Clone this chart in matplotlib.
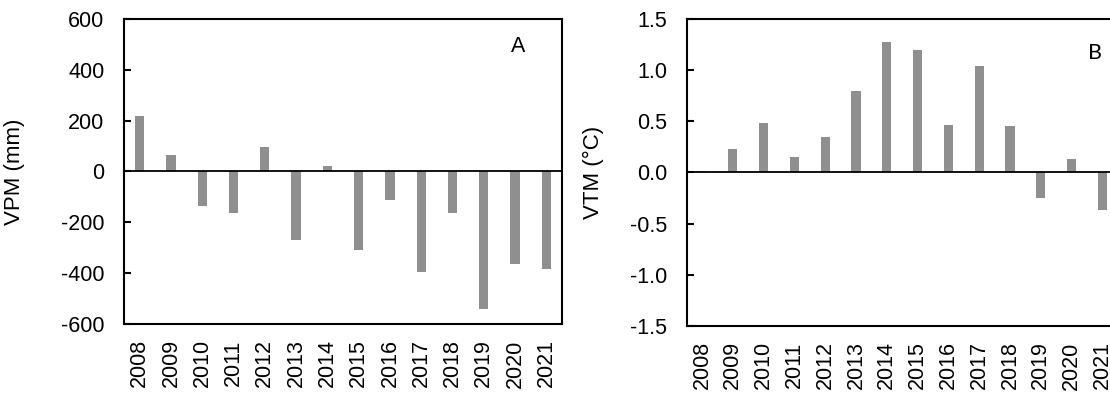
import matplotlib
matplotlib.use('Agg')
import matplotlib.pyplot as plt
import numpy as np

plt.rcParams['font.family'] = ['Liberation Sans', 'DejaVu Sans']

years = ['2008', '2009', '2010', '2011', '2012', '2013', '2014',
         '2015', '2016', '2017', '2018', '2019', '2020', '2021']

# precipitation anomaly (mm)
vpm = [220, 66, -136, -165, 96, -270, 22, -308, -114, -394, -165, -542, -363, -384]

# temperature anomaly (°C)
vtm = [0.01, 0.23, 0.48, 0.15, 0.35, 0.80, 1.28, 1.20, 0.46, 1.04, 0.45, -0.25, 0.13, -0.37]

bar_color = '#8f8f8f'
fs = 15.5


def style_panel(ax, values, ylim, yticks, yfmt, ylabel, label_x):
    x = np.arange(len(years))
    ax.bar(x, values, width=0.3, color=bar_color, zorder=2)
    ax.axhline(0, color='black', lw=1.3, zorder=3)
    ax.set_xlim(-0.5, len(years) - 0.5)
    ax.set_ylim(*ylim)
    ax.set_yticks(yticks)
    ax.set_yticklabels([yfmt.format(t) for t in yticks])
    ax.set_xticks(x)
    ax.set_xticklabels(years, rotation=90)
    ax.tick_params(axis='y', direction='in', length=5, width=1.5,
                   pad=14, labelsize=fs)
    ax.tick_params(axis='x', length=0, pad=11, labelsize=fs)
    for s in ax.spines.values():
        s.set_linewidth(1.5)
    ax.set_ylabel(ylabel, fontsize=16)
    ax.yaxis.set_label_coords(label_x, 0.5)


fig = plt.figure(figsize=(11.1, 3.94), dpi=100)

ax1 = fig.add_axes([0.1117, 0.1777, 0.3946, 0.7741])
style_panel(ax1, vpm, (-600, 600), [-600, -400, -200, 0, 200, 400, 600],
            '{:g}', 'VPM (mm)', -0.226)
ax1.text(0.9, 0.91, 'A', transform=ax1.transAxes, fontsize=15.5,
         ha='center', va='center')

ax2 = fig.add_axes([0.6186, 0.1726, 0.3885, 0.7792])
style_panel(ax2, vtm, (-1.5, 1.5), [-1.5, -1.0, -0.5, 0.0, 0.5, 1.0, 1.5],
            '{:.1f}', 'VTM (°C)', -0.192)
ax2.text(0.947, 0.888, 'B', transform=ax2.transAxes, fontsize=15.5,
         ha='center', va='center', family=['Lato', 'DejaVu Sans'])

fig.savefig('out.png', dpi=100)
